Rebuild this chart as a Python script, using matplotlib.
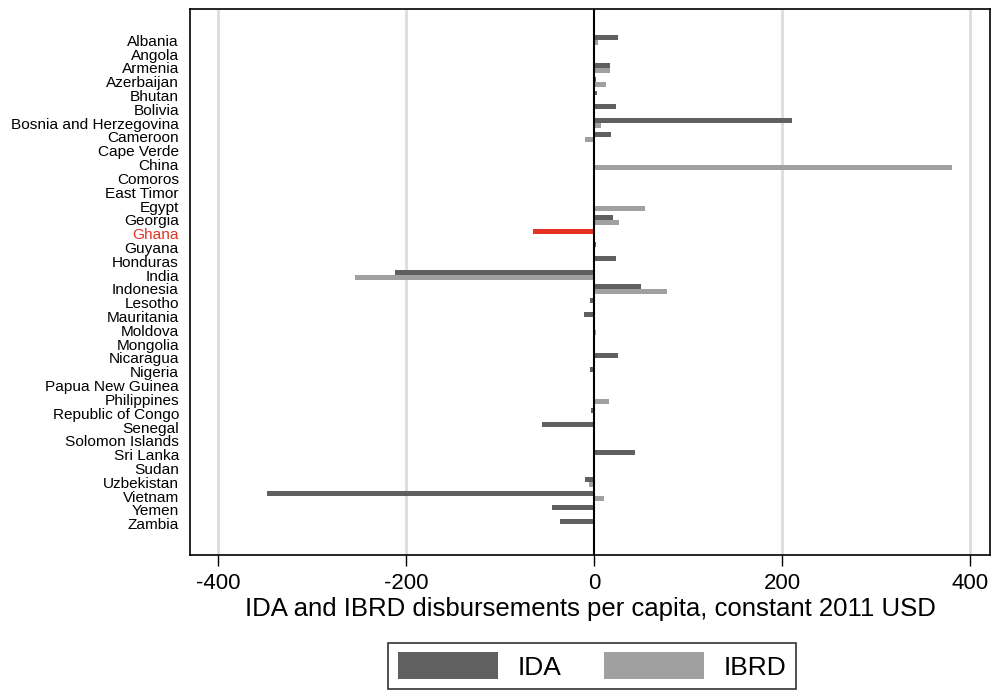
import numpy as np
import matplotlib
matplotlib.use('Agg')
import matplotlib.pyplot as plt
from matplotlib.patches import Patch

plt.rcParams['font.family'] = ['Liberation Sans', 'DejaVu Sans']
plt.rcParams['axes.unicode_minus'] = False

countries = ['Albania', 'Angola', 'Armenia', 'Azerbaijan', 'Bhutan', 'Bolivia',
             'Bosnia and Herzegovina', 'Cameroon', 'Cape Verde', 'China', 'Comoros',
             'East Timor', 'Egypt', 'Georgia', 'Ghana', 'Guyana', 'Honduras', 'India',
             'Indonesia', 'Lesotho', 'Mauritania', 'Moldova', 'Mongolia', 'Nicaragua',
             'Nigeria', 'Papua New Guinea', 'Philippines', 'Republic of Congo', 'Senegal',
             'Solomon Islands', 'Sri Lanka', 'Sudan', 'Uzbekistan', 'Vietnam', 'Yemen',
             'Zambia']

ida = [25.5, 1, 17, 2, 3, 23, 210, 18, 1, 1, 0.5, 1, 0.5, 20, -65, 2, 23, -212,
       50, -4, -11, 0.5, 0.5, 25, -4, -1, 0.5, -3, -56, 1, 43, 0.5, -10, -348, -45, -36]
ibrd = [4, 0, 17, 12, 0, 1, 7, -10, 0, 381, 0, 0, 54, 26, 0, 0, 1, -254,
        77, 0, 0, 2, 0, 0, 0, -1, 16, 0, 0, 0, 0, 0, -6, 10, 0, 0]

highlight = 'Ghana'

dark = '#606060'
light = '#a0a0a0'
red = '#e63222'

n = len(countries)
pos = np.arange(n)

fig = plt.figure(figsize=(9.92, 6.9), dpi=100)
ax = fig.add_axes([190 / 992, 1 - 555 / 690, 800 / 992, 546 / 690])

ida_colors = [red if c == highlight else dark for c in countries]
ax.barh(pos - 0.18, ida, height=0.36, color=ida_colors, zorder=3)
ax.barh(pos + 0.18, ibrd, height=0.36, color=light, zorder=3)

ax.axvline(0, color='black', lw=1.5, zorder=4)
for g in [-400, -200, 200, 400]:
    ax.axvline(g, color='#dcdcdc', lw=2, zorder=1)

ax.set_xlim(-430, 421)
ax.set_ylim(n - 1 + 2.26, -2.26)
ax.set_xticks([-400, -200, 0, 200, 400])
ax.tick_params(axis='x', labelsize=16, length=8, width=1, pad=5)
ax.set_yticks(pos)
ax.set_yticklabels(countries, fontsize=11.1)
ax.tick_params(axis='y', length=0, pad=8)
for lab in ax.get_yticklabels():
    if lab.get_text() == highlight:
        lab.set_color(red)
for s in ax.spines.values():
    s.set_linewidth(1.2)

ax.set_xlabel('IDA and IBRD disbursements per capita, constant 2011 USD', fontsize=18.5, labelpad=2)

handles = [Patch(facecolor=dark, edgecolor='none', label='IDA'),
           Patch(facecolor=light, edgecolor='none', label='IBRD')]
leg = fig.legend(handles=handles, loc='upper center', bbox_to_anchor=(0.597, 1 - 643 / 690),
                 ncol=2, fontsize=19, frameon=True, fancybox=False, edgecolor='black',
                 handlelength=3.8, handleheight=1.2, handletextpad=0.75,
                 columnspacing=1.6, borderpad=0.35, borderaxespad=0)
leg.get_frame().set_linewidth(1.2)

fig.savefig('out.png', dpi=100)
